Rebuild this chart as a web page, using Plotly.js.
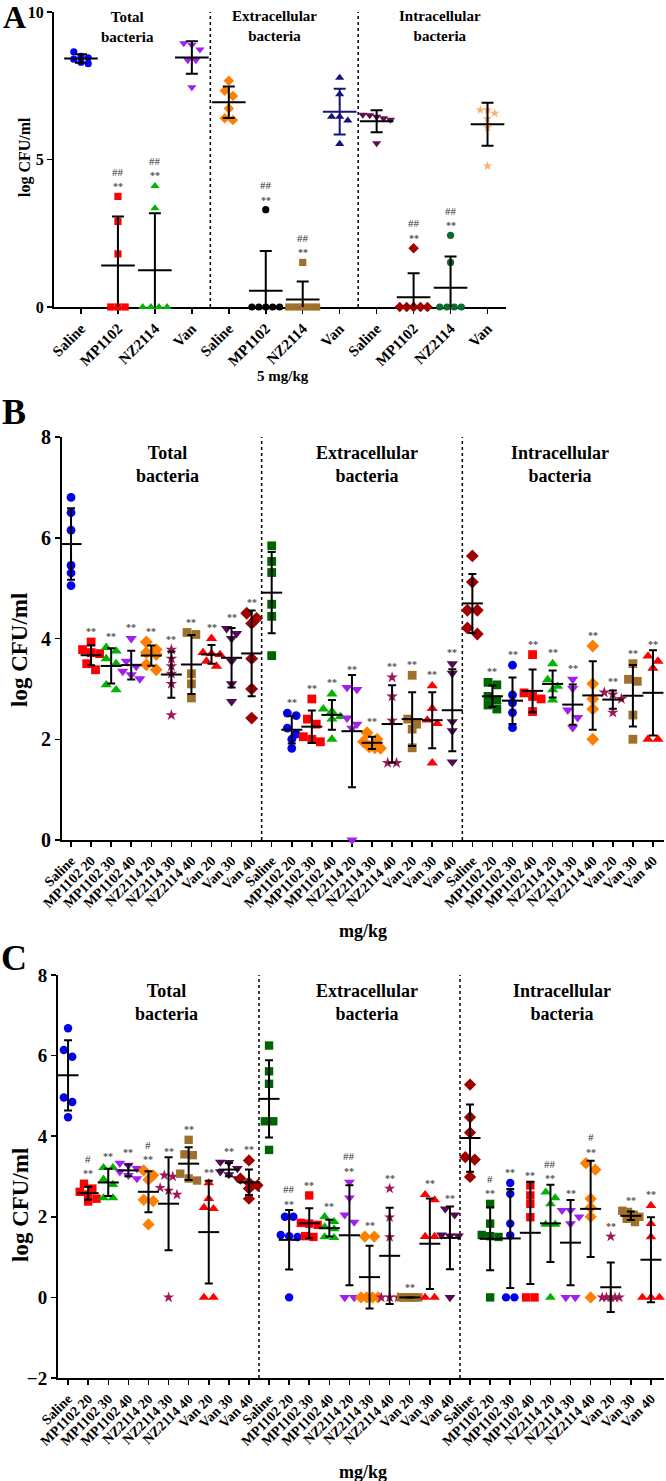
<!DOCTYPE html>
<html><head><meta charset="utf-8">
<script src="https://cdn.plot.ly/plotly-3.0.1.min.js"></script>
<style>html,body{margin:0;padding:0;background:#fff}</style>
</head><body><div id="chart" style="width:666px;height:1481px"></div>
<script>
// ---------- categories / labels ----------
const catsA = ['Saline','MP1102','NZ2114','Van','Saline','MP1102','NZ2114','Van','Saline','MP1102','NZ2114','Van'];
const catsGroup = ['Saline','MP1102 20','MP1102 30','MP1102 40','NZ2114 20','NZ2114 30','NZ2114 40','Van 20','Van 30','Van 40'];
const catsBC = catsGroup.concat(catsGroup, catsGroup);
const groupTitles = ['Total<br>bacteria','Extracellular<br>bacteria','Intracellular<br>bacteria'];

// ---------- Panel A (5 mg/kg), log CFU/ml ----------
const A_total = [[8.65,8.5,8.45,8.4,8.3,8.25],[3.75,2.9,1.8,0,0,0],[4.1,3.35,0,0,0,0],[8.94,8.88,8.73,8.37,8.37,7.45]];
const A_extra = [[7.67,7.33,7.15,6.73,6.4,6.34],[3.3,0,0,0,0,0],[1.51,0,0,0,0,0],[7.77,7.21,6.45,6.45,6.32,5.53]];
const A_intra = [[6.52,6.5,6.45,6.4,6.35,5.55],[1.99,0,0,0,0,0],[2.43,1.51,0,0,0,0],[6.68,6.68,6.57,6.38,6.08,4.78]];
const A_stars = ['','**','**','','','**','**','','','**','**',''];
const A_hash  = ['','##','##','','','##','##','','','##','##',''];

// ---------- Panel B ----------
const B_total = [[6.8,6.5,6.15,5.45,5.3,5.05],[3.93,3.78,3.72,3.7,3.5,3.38],[3.82,3.75,3.6,3.5,3.08,2.98],[4.0,3.55,3.45,3.35,3.28,3.2],
  [3.93,3.78,3.72,3.68,3.48,3.38],[3.78,3.6,3.45,3.3,3.1,2.48],[4.12,4.08,3.3,3.1,2.82],[4.0,3.72,3.7,3.68,3.55,3.45],
  [4.2,4.1,4.0,3.55,3.1,2.75],[4.5,4.4,4.3,3.6,3.0,2.42]];
const B_extra = [[5.84,5.53,5.31,4.68,4.44,3.66],[2.52,2.47,2.22,2.1,2.0,1.82],[2.8,2.4,2.3,2.05,2.0,1.95],[2.9,2.6,2.55,2.45,2.4,2.0],
  [3.03,2.99,2.42,2.3,2.22,0],[2.13,2.0,1.95,1.85,1.83,1.82],[3.23,2.85,2.37,1.53,1.53],[3.27,2.4,2.3,2.2,1.83],
  [3.06,2.61,2.38,2.31,1.53],[3.5,3.31,2.35,2.17,1.55]];
const B_intra = [[5.64,5.12,4.56,4.56,4.21,4.09],[3.13,3.08,2.85,2.78,2.68,2.6],[3.47,2.88,2.72,2.53,2.23],[3.68,2.92,2.85,2.8,2.55],
  [3.5,3.18,3.05,2.98,2.78],[3.19,3.01,2.58,2.43,2.23],[3.85,3.1,2.8,2.6,2.0],[2.93,2.89,2.8,2.53],
  [3.5,3.19,3.15,2.48,2.0],[3.65,3.55,3.41,2.0,2.0]];
const B_stars = catsBC.map((c,i)=> i%10===0 ? '' : '**');
const B_hash  = catsBC.map(()=> '');

// ---------- Panel C ----------
const C_total = [[6.68,6.14,5.97,4.96,4.85,4.47],[2.82,2.7,2.62,2.55,2.45,2.38],[3.22,3.22,2.93,2.8,2.47,2.47],[3.33,3.28,3.2,3.12,3.03,2.95],
  [3.15,3.03,2.92,2.42,2.39,1.81],[3.03,3.0,2.72,2.65,2.55,0],[3.91,3.55,3.53,3.07,2.95,2.9],[2.84,2.45,2.23,2.2,0,0],
  [3.36,3.35,3.2,3.12,3.05,2.95],[3.4,2.95,2.85,2.78,2.7,2.45]];
const C_extra = [[6.25,5.61,5.3,4.37,4.37,3.66],[2.0,2.0,1.55,1.52,1.5,0],[2.53,1.85,1.83,1.8,1.52,1.5],[2.0,1.88,1.75,1.7,1.5,1.48],
  [2.86,2.47,2.05,1.87,0,0],[1.51,1.51,0,0,0,0],[2.7,1.99,1.5,0,0,0],[0,0,0,0,0,0],
  [2.55,2.42,1.51,1.51,0,0],[2.2,2.05,1.55,1.53,1.53,0]];
const C_intra = [[5.28,4.47,4.09,3.48,3.42,2.99],[2.32,1.83,1.55,1.52,1.5,0],[2.84,2.57,1.83,1.54,0,0],[2.78,2.53,2.32,1.99,0,0],
  [2.61,2.47,2.32,1.81,1.81,0],[2.16,2.16,2.0,1.83,0,0],[3.33,3.17,2.45,2.23,2.0,0],[1.51,0,0,0,0,0],
  [2.15,2.12,2.05,2.0,1.95,1.87],[2.28,1.83,1.5,0,0,0]];
const C_stars = catsBC.map((c,i)=> i%10===0 ? '' : '**');
const C_hash  = ['','#','','','#','','','','','', '','##','','','##','','','','','', '','#','','','##','','#','','',''];

// ---------- styles ----------
const stylesA = [
  {s:'circle',c:'#0000FF'},{s:'square',c:'#FF0000'},{s:'triangle-up',c:'#00B400'},{s:'triangle-down',c:'#A020F0'},
  {s:'diamond',c:'#FF8000'},{s:'circle',c:'#000000'},{s:'square',c:'#A0702A'},{s:'triangle-up',c:'#14147A',bar:'#14147A'},
  {s:'triangle-down',c:'#5E1050'},{s:'diamond',c:'#A00000'},{s:'circle',c:'#0A6A30'},{s:'star',c:'#F8B070'}];
const palette = [
  {s:'circle',c:'#0000EE'},{s:'square',c:'#FF0000'},{s:'triangle-up',c:'#00B400'},{s:'triangle-down',c:'#A020F0'},
  {s:'diamond',c:'#FF7F00'},{s:'star',c:'#A0185A'},{s:'square',c:'#A0702A'},{s:'triangle-up',c:'#FF0000'},
  {s:'triangle-down',c:'#520A50'},{s:'diamond',c:'#A00000'},{s:'square',c:'#006400'}];
const symSize = {'circle':8,'square':8,'triangle-up':9,'triangle-down':9,'diamond':9,'star':8};
function bcStyle(j){ const g=Math.floor(j/10), k=j%10; return palette[(k + [0,10,9][g]) % 11]; }

function swarmOffsets(vals, ppu, ppc, size, maxSpan){
  const idx = vals.map((v,i)=>i).sort((a,b)=>vals[b]-vals[a]);
  const off = new Array(vals.length).fill(0);
  let row=[], rowTop=null;
  const flush=()=>{ const n=row.length; if(!n) return; let step=size/ppc; if(n>1) step=Math.min(step, maxSpan/(n-1));
    row.forEach((k,j)=>{ off[k]=(j-(n-1)/2)*step; }); row=[]; };
  for(const k of idx){ if(rowTop!==null && (rowTop-vals[k])*ppu < size*0.85) row.push(k); else { flush(); row=[k]; rowTop=vals[k]; } }
  flush();
  return off;
}
function meanSd(v){ const n=v.length, m=v.reduce((a,b)=>a+b,0)/n; const sd=n>1?Math.sqrt(v.reduce((a,b)=>a+(b-m)*(b-m),0)/(n-1)):0; return [m,sd]; }

const SERIF = 'Liberation Serif, Times New Roman, serif';
const panels = [
  {xa:'x', ya:'y', data:[A_total,A_extra,A_intra], stars:A_stars, hash:A_hash, ppu:29.5, ppc:36.96, scale:0.9, meanW:24, capW:6, maxSpan:0.75, style:j=>stylesA[j]},
  {xa:'x2', ya:'y2', data:[B_total,B_extra,B_intra], stars:B_stars, hash:B_hash, ppu:50.3, ppc:20.07, scale:1.1, meanW:15, capW:4, maxSpan:0.85, style:bcStyle},
  {xa:'x3', ya:'y3', data:[C_total,C_extra,C_intra], stars:C_stars, hash:C_hash, ppu:40.3, ppc:20.1, scale:1.05, meanW:15, capW:4, maxSpan:0.85, style:bcStyle}
];

const traces=[], meanTraces=[], annotations=[];
panels.forEach(p=>{
  const all = [].concat(p.data[0], p.data[1], p.data[2]);
  all.forEach((vals,j)=>{
    const st = p.style(j);
    const size = symSize[st.s]*p.scale;
    const off = swarmOffsets(vals, p.ppu, p.ppc, size, p.maxSpan);
    traces.push({type:'scatter', mode:'markers', x:vals.map((v,k)=>j+off[k]), y:vals, xaxis:p.xa, yaxis:p.ya,
      marker:{symbol:st.s, color:st.c, size:size, line:{width:0}}, cliponaxis:false, hoverinfo:'skip', showlegend:false});
    const [m,sd] = meanSd(vals);
    const bc = st.bar || '#000';
    meanTraces.push({type:'scatter', mode:'markers', x:[j], y:[m], xaxis:p.xa, yaxis:p.ya,
      marker:{symbol:'line-ew', size:p.meanW, color:bc, line:{width:2, color:bc}},
      error_y:{type:'data', array:[sd], visible:true, color:bc, thickness:2, width:p.capW},
      cliponaxis:true, hoverinfo:'skip', showlegend:false});
    const r = size/2;
    const topPx = Math.max(Math.max(...vals)*p.ppu + r, (m+sd)*p.ppu);
    if(p.stars[j]) annotations.push({xref:p.xa, yref:p.ya, x:j, y:topPx/p.ppu, yshift:6, text:p.stars[j], showarrow:false,
      yanchor:'middle', borderpad:0, font:{family:SERIF, size:10, color:'#555555', weight:'bold'}});
    if(p.hash[j]) annotations.push({xref:p.xa, yref:p.ya, x:j, y:topPx/p.ppu, yshift:21, text:p.hash[j], showarrow:false,
      yanchor:'middle', borderpad:0, font:{family:SERIF, size:11, color:'#333333'}});
  });
});

// paper-pixel helpers for text placement
const W=666, H=1481;
const px = x=>x/W, py = y=>1-y/H;
function txt(x,y,text,size,extra){ return Object.assign({xref:'paper',yref:'paper',x:px(x),y:py(y),text:text,showarrow:false,
  xanchor:'center',yanchor:'middle',font:{family:SERIF,size:size,color:'#000',weight:'bold'}},extra||{}); }
annotations.push(txt(14,17,'A',32), txt(14,412,'B',36), txt(14,958,'C',36));
annotations.push(txt(127,27,groupTitles[0],15), txt(274,26,groupTitles[1],15), txt(440,26,groupTitles[2],15));
annotations.push(txt(168,464,groupTitles[0],18), txt(367,464,groupTitles[1],18), txt(560,464,groupTitles[2],18));
annotations.push(txt(166,1002,groupTitles[0],18), txt(367,1002,groupTitles[1],18), txt(562,1002,groupTitles[2],18));
annotations.push(txt(25,157,'log CFU/ml',16,{textangle:-90}), txt(19,650,'log CFU/ml',23,{textangle:-90}), txt(20,1205,'log CFU/ml',23,{textangle:-90}));
annotations.push(txt(283,376,'5 mg/kg',15), txt(363,931,'mg/kg',18), txt(363,1472,'mg/kg',18));

const dotted = (xref,yref,x,y0,y1)=>({type:'line', xref:xref, yref:yref, x0:x, x1:x, y0:y0, y1:y1, line:{color:'#000', width:1.5, dash:'dot'}, layer:'below'});
const shapes = [dotted('x','y',3.5,0,10), dotted('x','y',7.5,0,10),
  dotted('x2','y2',9.5,0,8.28), dotted('x2','y2',19.5,0,8.28),
  dotted('x3','y3',9.5,-2,8.4), dotted('x3','y3',19.5,-2,8.4)];

const axBase = {showgrid:false, zeroline:false, showline:true, linewidth:2, linecolor:'#000', ticks:'outside', ticklen:5, tickwidth:1.5, tickcolor:'#000', layer:'below traces', fixedrange:true};
const xTick = s=>({family:SERIF, size:s, color:'#000', weight:'bold'});
const layout = {
  width:W, height:H, margin:{l:0,r:0,t:0,b:0}, paper_bgcolor:'#fff', plot_bgcolor:'rgba(0,0,0,0)', showlegend:false,
  xaxis: Object.assign({}, axBase, {domain:[54/W,506/W], range:[-0.73,11.5], anchor:'y', tickmode:'array', tickvals:catsA.map((c,i)=>i), ticktext:catsA, tickangle:-45, tickfont:xTick(15)}),
  yaxis: Object.assign({}, axBase, {domain:[py(307),py(12)], range:[0,10], anchor:'x', tickmode:'array', tickvals:[0,5,10], tickfont:xTick(16)}),
  xaxis2: Object.assign({}, axBase, {domain:[62/W,664/W], range:[-0.45,29.55], anchor:'y2', tickmode:'array', tickvals:catsBC.map((c,i)=>i), ticktext:catsBC, tickangle:-45, tickfont:xTick(14)}),
  yaxis2: Object.assign({}, axBase, {domain:[py(840),py(437)], range:[0,8], anchor:'x2', tickmode:'array', tickvals:[0,2,4,6,8], tickfont:xTick(20)}),
  xaxis3: Object.assign({}, axBase, {domain:[58/W,664/W], range:[-0.5,29.65], anchor:'y3', tickmode:'array', tickvals:catsBC.map((c,i)=>i), ticktext:catsBC, tickangle:-45, tickfont:xTick(14)}),
  yaxis3: Object.assign({}, axBase, {domain:[py(1378),py(975)], range:[-2,8], anchor:'x3', tickmode:'array', tickvals:[-2,0,2,4,6,8], tickfont:xTick(19)}),
  annotations: annotations, shapes: shapes
};
Plotly.newPlot('chart', traces.concat(meanTraces), layout, {staticPlot:true, displayModeBar:false});
</script></body></html>
